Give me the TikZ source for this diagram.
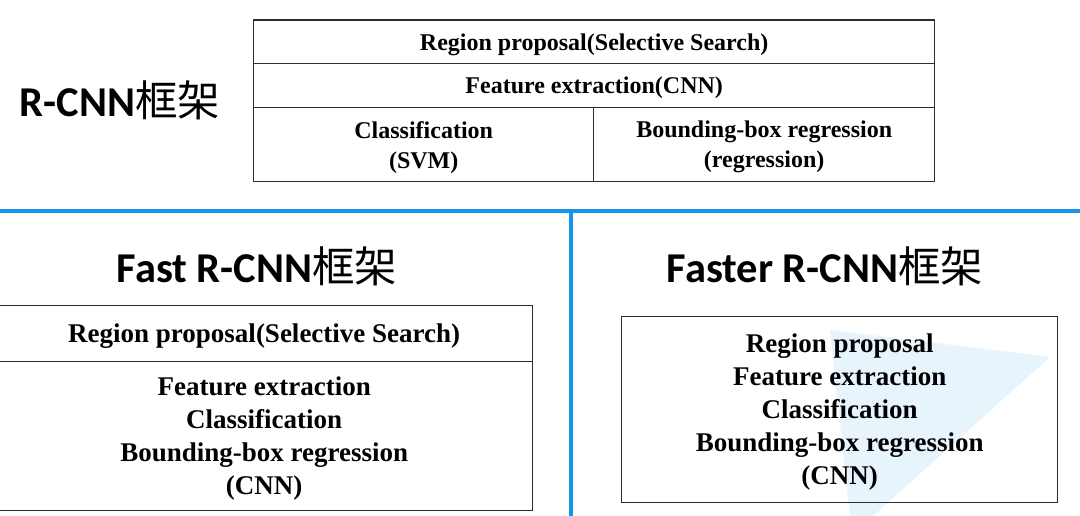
\documentclass[tikz,border=0pt]{standalone}
\usepackage{fontspec}
\setmainfont{Liberation Serif}
\newfontfamily\titlefont{Carlito}
\newfontfamily\cjk{Noto Sans CJK SC}
\definecolor{sepblue}{RGB}{22,150,235}
\definecolor{boxline}{RGB}{45,45,45}
\definecolor{paleblue}{RGB}{231,244,252}
\begin{document}
\begin{tikzpicture}[x=1pt,y=-1pt,
  cell/.style={draw=boxline,line width=1.4pt,inner sep=0pt,anchor=north west},
  txt/.style={inner sep=0pt,align=center,yshift=-2.5pt},
  txtbig/.style={txt,font=\bfseries\fontsize{27}{33}\selectfont},
  txtsmall/.style={txt,font=\bfseries\fontsize{24}{30}\selectfont},
  ttl/.style={inner sep=0pt,font=\fontsize{42.5}{46}\selectfont},
  sep/.style={draw=sepblue,line width=3.5pt}
]
\useasboundingbox (0,0) rectangle (1080,516);
\fill[white] (0,0) rectangle (1080,516);
% faint background shape
\fill[paleblue] (830,330) -- (1050,357) -- (873,516) -- (850,516) -- cycle;
% separators
\coordinate (hl) at (-5,211);
\coordinate (hr) at (1085,211);
\coordinate (vt) at (571,211);
\coordinate (vb) at (571,521);
\draw[sep] (hl) -- (hr);
\draw[sep] (vt) -- (vb);
% titles
\node[ttl] (t1) at (120,100) {{\titlefont\bfseries R-CNN}{\cjk 框架}};
\node[ttl] (t2) at (257,266) {{\titlefont\bfseries Fast R-CNN}{\cjk 框架}};
\node[ttl] (t3) at (825,266) {{\titlefont\bfseries Faster R-CNN}{\cjk 框架}};
% R-CNN table
\node[cell,minimum width=681pt,minimum height=43.5pt] (r1) at (253,19.5) {};
\node[cell,minimum width=681pt,minimum height=44pt] (r2) at (253,63) {};
\node[cell,minimum width=340pt,minimum height=74pt] (r3) at (253,107) {};
\node[cell,minimum width=341pt,minimum height=74pt] (r4) at (593,107) {};
\node[txtsmall] (r1t) at (r1.center) {Region proposal(Selective Search)};
\node[txtsmall] (r2t) at (r2.center) {Feature extraction(CNN)};
\node[txtsmall] (r3t) at (r3.center) {Classification\\(SVM)};
\node[txtsmall] (r4t) at (r4.center) {Bounding-box regression\\(regression)};
% Fast R-CNN table
\node[cell,minimum width=537pt,minimum height=56pt] (f1) at (-5,305) {};
\node[cell,minimum width=537pt,minimum height=149pt] (f2) at (-5,361) {};
\node[txtbig] (f1t) at (f1.center) {Region proposal(Selective Search)};
\node[txtbig] (f2t) at (f2.center) {Feature extraction\\Classification\\Bounding-box regression\\(CNN)};
% Faster R-CNN box
\node[cell,minimum width=436pt,minimum height=186pt] (g1) at (621,316) {};
\node[txtbig] (g1t) at (g1.center) {Region proposal\\Feature extraction\\Classification\\Bounding-box regression\\(CNN)};
\end{tikzpicture}
\end{document}
